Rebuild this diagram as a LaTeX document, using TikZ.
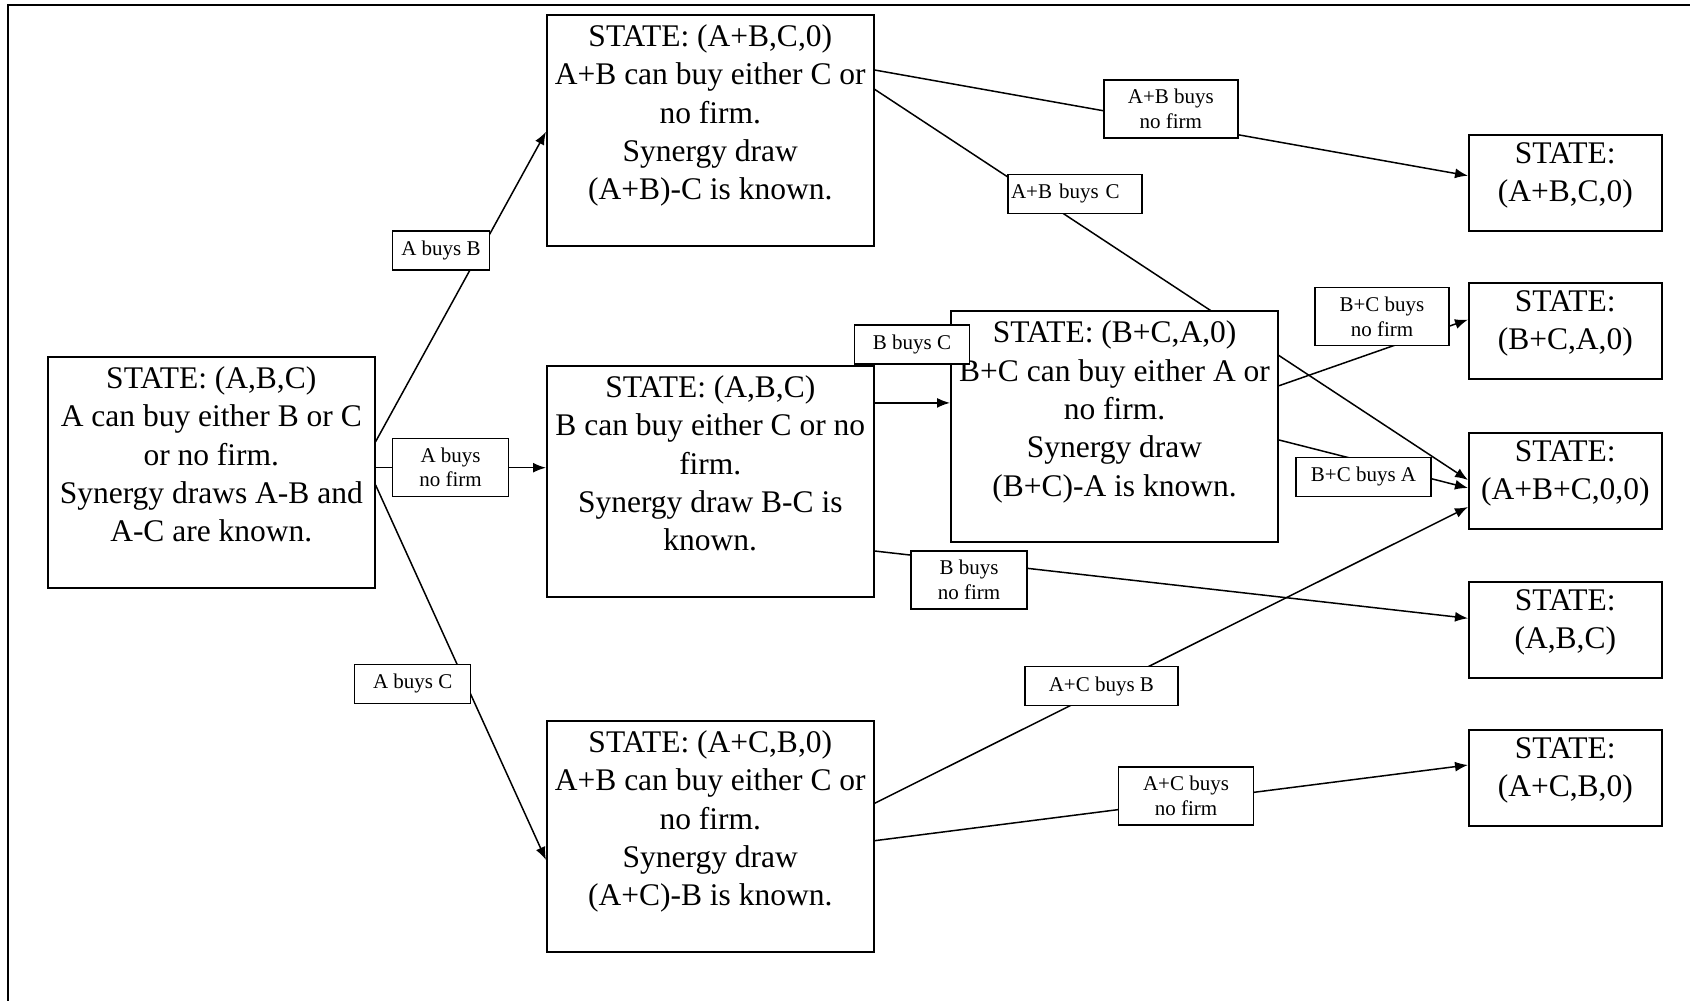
\documentclass[tikz,border=0pt]{standalone}
\usepackage{fontspec}
\setmainfont{Liberation Serif}
\usetikzlibrary{arrows.meta,backgrounds}
\newcommand{\bigtxt}[1]{\parbox[c][211pt][t]{327pt}{\centering #1}}
\newcommand{\finaltxt}[1]{\parbox[c][80pt][t]{193pt}{\centering #1}}
\begin{document}
\begin{tikzpicture}[x=1pt, y=-1pt,
	state/.style={draw, fill=white, line width=1.6pt, inner xsep=0pt, inner ysep=10pt, anchor=north west, font=\fontsize{31.5}{38.3}\selectfont},
	final/.style={state, inner ysep=8pt},
	lbl/.style={draw, fill=white, line width=1.4pt, inner sep=0pt, align=center, minimum height=39pt, font=\fontsize{21}{24.8}\selectfont},
	lbltwo/.style={lbl, minimum height=58pt},
	link/.style={line width=1.5pt},
	arr/.style={link, -{Latex[length=13pt,width=10pt]}}]
				\useasboundingbox (0,0) rectangle (1690,1001);
				\draw[line width=2pt] (1690,4.7) -- (8.3,4.7) -- (8.3,1001);
				
				\draw(47,356) node[state](root){\bigtxt{STATE: (A,B,C)\\A can buy either B or C\\or no firm.\\Synergy draws A-B and\\A-C are known.}};
				\draw(546,14) node[state](ab){\bigtxt{STATE: (A+B,C,0)\\A+B can buy either C or\\no firm.\\Synergy draw\\(A+B)-C is known.}};
				\draw(546,365) node[state](bc){\bigtxt{STATE: (A,B,C)\\B can buy either C or no\\firm.\\Synergy draw B-C is\\known.}};
				\draw(546,720) node[state](ac){\bigtxt{STATE: (A+C,B,0)\\A+B can buy either C or\\no firm.\\Synergy draw\\(A+C)-B is known.}};
				\draw(950,310) node[state, line width=2.1pt](bca){\bigtxt{STATE: (B+C,A,0)\\B+C can buy either A or\\no firm.\\Synergy draw\\(B+C)-A is known.}};
				
				\draw(1468,134) node[final](endabc){\finaltxt{STATE:\\(A+B,C,0)}};
				\draw(1468,282) node[final](endbca){\finaltxt{STATE:\\(B+C,A,0)}};
				\draw(1468,432) node[final](endall){\finaltxt{STATE:\\(A+B+C,0,0)}};
				\draw(1468,581) node[final](endnone){\finaltxt{STATE:\\(A,B,C)}};
				\draw(1468,729) node[final](endacb){\finaltxt{STATE:\\(A+C,B,0)}};
				
				\begin{scope}[on background layer]
				\draw[arr] ([yshift=-85.7pt]root.north east) -- ([yshift=-117.7pt]ab.north west);
				\draw[arr] ([yshift=-111.7pt]root.north east) -- ([yshift=-102.7pt]bc.north west);
				\draw[arr] ([yshift=-129pt]root.north east) -- ([yshift=-140pt]ac.north west);
				\draw[arr] ([yshift=-56pt]ab.north east) -- ([yshift=-41.7pt]endabc.north west);
				\draw[arr] ([yshift=-75.3pt]ab.north east) -- ([yshift=-48pt]endall.north west);
				\draw[arr] ([yshift=-37.9pt]bc.north east) -- ([yshift=-92.9pt]bca.north west);
				\draw[arr] ([yshift=-186pt]bc.north east) -- ([yshift=-37.3pt]endnone.north west);
				\draw[arr] ([yshift=-75.7pt]bca.north east) -- ([yshift=-37.6pt]endbca.north west);
				\draw[arr] ([yshift=-130pt]bca.north east) -- ([yshift=-56pt]endall.north west);
				\draw[arr] ([yshift=-83.3pt]ac.north east) -- ([yshift=-75pt]endall.north west);
				\draw[arr] ([yshift=-120.7pt]ac.north east) -- ([yshift=-36pt]endacb.north west);
				\end{scope}
				
				\draw(441,250.5) node[lbl, minimum width=97pt](buyb){A buys B};
				\draw(450.6,467.4) node[lbltwo, minimum width=116pt](buynone){A buys\\no firm};
				\draw(412.7,683.8) node[lbl, minimum width=116pt](buyc){A buys C};
				\draw(1170.8,109) node[lbltwo, minimum width=134pt](abnone){A+B buys\\no firm};
				\draw(1075,193.8) node[lbl, text width=128pt, align=left, inner xsep=3pt](abc){A+B buys C};
				\draw(912,344.6) node[lbl, minimum width=115pt](bbuyc){B buys C};
				\draw(1382,316.6) node[lbltwo, minimum width=134pt](bcnone){B+C buys\\no firm};
				\draw(1363.5,476.8) node[lbl, minimum width=135pt](bcbuya){B+C buys A};
				\draw(969,580) node[lbltwo, minimum width=116pt](bnone){B buys\\no firm};
				\draw(1101.4,686) node[lbl, minimum width=153pt](acbuyb){A+C buys B};
				\draw(1186,796) node[lbltwo, minimum width=135pt](acnone){A+C buys\\no firm};
				
\end{tikzpicture}
\end{document}
